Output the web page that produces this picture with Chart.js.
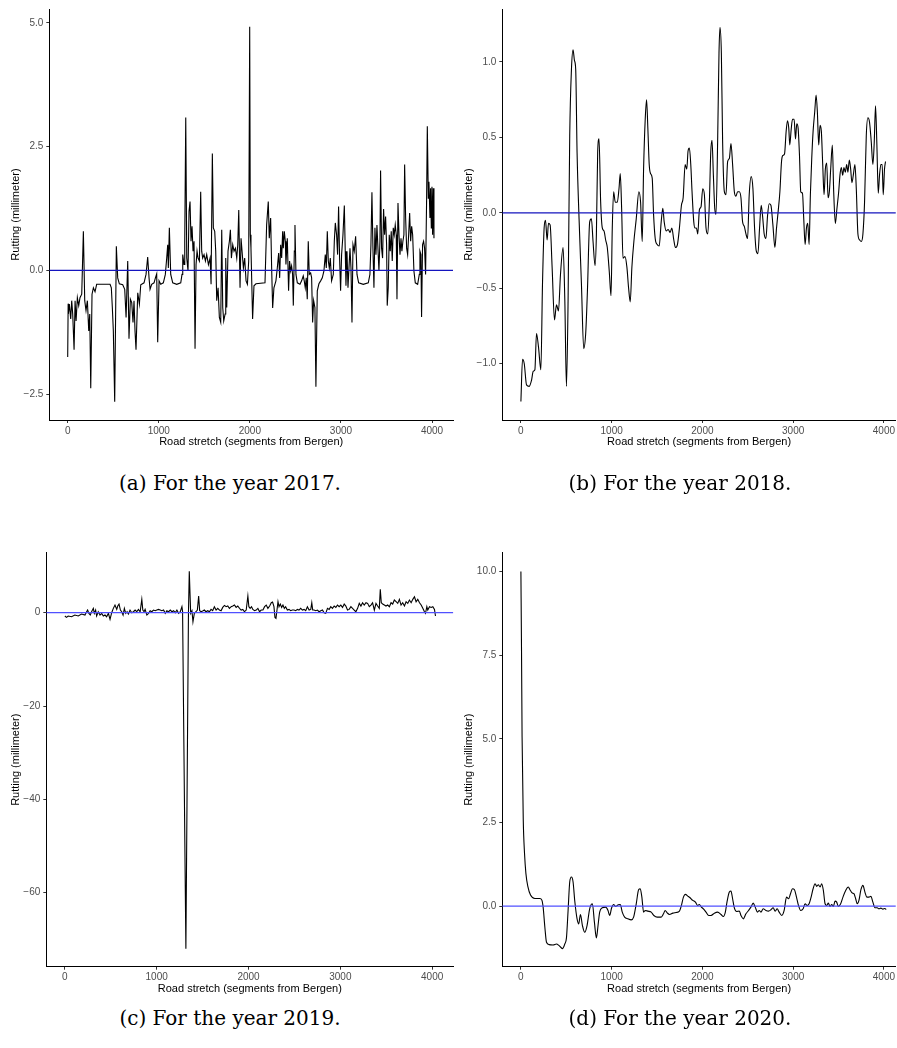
<!DOCTYPE html>
<html>
<head>
<meta charset="utf-8">
<script src="https://cdn.jsdelivr.net/npm/chart.js@4.4.1/dist/chart.umd.min.js"></script>
<style>
  body { margin: 0; background: #fff; width: 897px; height: 1048px; position: relative; overflow: hidden; }
  canvas { position: absolute; }
  .caption { position: absolute; width: 300px; text-align: center; white-space: nowrap;
             font-family: "DejaVu Serif", serif; font-size: 20px; line-height: 24px; color: #000; }
</style>
</head>
<body>
<canvas id="c2017" width="460" height="460" style="left:0;top:0"></canvas>
<canvas id="c2018" width="457" height="460" style="left:440px;top:0"></canvas>
<canvas id="c2019" width="460" height="480" style="left:0;top:520px"></canvas>
<canvas id="c2020" width="457" height="480" style="left:440px;top:520px"></canvas>
<div class="caption" style="left:80px;top:471px">(a) For the year 2017.</div>
<div class="caption" style="left:530px;top:471px">(b) For the year 2018.</div>
<div class="caption" style="left:80px;top:1006px">(c) For the year 2019.</div>
<div class="caption" style="left:530px;top:1006px">(d) For the year 2020.</div>
<script>
const xTicks = [0, 1000, 2000, 3000, 4000];
const xTickLabels = ['0', '1000', '2000', '3000', '4000'];

// 2017 (segment position, rutting mm)
const x2017 = [
  0, 5, 7, 18, 33, 44, 55, 70, 81, 92,
  106, 121, 135, 154, 172, 187, 201, 216, 231, 242,
  253, 267, 282, 300, 318, 465, 479, 490, 501, 516,
  534, 549, 567, 604, 626, 641, 659, 673, 688, 703,
  717, 728, 739, 750, 769, 787, 802, 838, 860, 878,
  893, 904, 922, 948, 963, 977, 988, 1003, 1021, 1050,
  1072, 1087, 1098, 1105, 1116, 1131, 1153, 1197, 1241, 1255,
  1263, 1277, 1285, 1296, 1307, 1321, 1332, 1343, 1354, 1365,
  1376, 1387, 1398, 1409, 1420, 1431, 1446, 1460, 1471, 1482,
  1497, 1512, 1526, 1545, 1563, 1574, 1588, 1599, 1614, 1625,
  1636, 1651, 1665, 1680, 1691, 1702, 1713, 1728, 1735, 1746,
  1760, 1775, 1786, 1797, 1812, 1826, 1841, 1856, 1867, 1878,
  1892, 1903, 1914, 1929, 1943, 1958, 1973, 1987, 1998, 2005,
  2012, 2030, 2045, 2067, 2166, 2184, 2202, 2213, 2228, 2239,
  2250, 2264, 2286, 2301, 2316, 2327, 2338, 2349, 2360, 2367,
  2378, 2389, 2396, 2411, 2425, 2436, 2447, 2458, 2469, 2477,
  2488, 2495, 2506, 2521, 2550, 2568, 2586, 2597, 2608, 2619,
  2630, 2641, 2652, 2667, 2678, 2689, 2700, 2714, 2725, 2740,
  2758, 2777, 2795, 2813, 2828, 2839, 2850, 2861, 2872, 2883,
  2897, 2916, 2927, 2938, 2952, 2963, 2974, 2985, 2996, 3007,
  3022, 3037, 3047, 3055, 3066, 3077, 3088, 3099, 3110, 3121,
  3132, 3146, 3161, 3176, 3194, 3245, 3300, 3318, 3329, 3340,
  3351, 3362, 3373, 3384, 3395, 3406, 3417, 3428, 3435, 3446,
  3457, 3468, 3479, 3490, 3501, 3508, 3519, 3530, 3541, 3552,
  3563, 3574, 3585, 3596, 3607, 3615, 3626, 3637, 3648, 3659,
  3669, 3680, 3691, 3699, 3710, 3721, 3732, 3743, 3754, 3765,
  3776, 3787, 3801, 3816, 3842, 3860, 3867, 3878, 3885, 3896,
  3907, 3918, 3929, 3940, 3948, 3959, 3966, 3977, 3984, 3992,
  3999, 4006, 4014, 4021
];
const y2017 = [
  -1.75, -0.67, -0.88, -0.68, -0.98, -0.61, -0.88, -1.60, -0.61, -1.02,
  -0.55, -0.71, -0.55, -0.48, 0.79, -0.61, -0.81, -0.61, -1.22, -0.88,
  -2.38, -0.48, -0.35, -0.43, -0.28, -0.28, -0.35, -0.75, -1.22, -2.65,
  0.49, -0.15, -0.27, -0.29, -0.38, -0.95, 0.19, -1.38, -0.58, -0.65,
  -1.05, -0.61, -1.22, -1.60, -0.45, -0.68, -0.29, -0.25, -0.08, 0.27,
  -0.15, -0.38, -0.28, -0.25, -0.15, -0.07, -1.45, -0.21, -0.28, -0.25,
  -0.08, 0.25, 0.52, 0.05, 0.86, -0.08, -0.25, -0.28, -0.25, -0.08,
  0.32, 0.12, 0.59, 3.09, 0.25, -0.01, 1.19, 1.39, 0.59, 0.89,
  0.39, 0.59, -1.58, 0.12, 0.39, 0.25, 0.19, 1.59, 0.39, 0.25,
  0.32, 0.19, 0.32, 0.12, 0.25, -0.28, 2.36, 0.86, 0.79, 0.39,
  -0.61, -0.35, -0.95, -1.05, 0.82, -0.75, -1.02, -0.88, 0.25, -0.75,
  0.39, 0.59, 0.82, 0.25, 0.52, 0.39, 0.45, 0.25, 0.52, 1.22,
  -0.35, 0.65, 0.39, 0.05, 0.25, -0.21, -0.28, 0.19, 4.92, 0.72,
  0.45, -0.98, -0.31, -0.27, -0.25, 0.92, 1.39, 0.65, 1.06, 0.05,
  -0.76, -0.35, -0.21, 0.05, 0.35, -0.15, 0.52, 0.25, 0.79, 0.45,
  0.79, 0.59, 0.12, 0.65, -0.41, 0.19, -0.01, 0.09, -0.08, -0.71,
  0.39, 0.92, -0.08, -0.25, -0.28, -0.21, -0.11, -0.21, -0.35, -0.15,
  -0.58, 0.59, -0.08, -0.05, -0.15, -1.05, -0.61, -0.75, -2.35, -0.41,
  -0.27, -0.21, -0.15, -0.01, 0.32, 0.05, 0.79, 0.19, 0.05, 0.25,
  -0.21, -0.08, 0.59, 0.96, 0.72, 0.32, 1.29, 0.25, -0.41, 0.32,
  0.72, 1.31, 0.39, -0.31, 0.39, -0.35, 0.05, 0.45, 0.05, -1.05,
  0.52, 0.39, 0.69, -0.08, -0.25, -0.28, -0.25, -0.08, 0.52, 1.58,
  0.45, -0.35, 0.86, 0.32, 0.92, 0.45, -0.01, 0.59, 2.02, 0.45,
  0.25, 1.24, 0.72, 1.09, 0.52, -0.71, -0.35, 0.72, 0.39, 0.79,
  0.19, 0.86, 0.72, 0.92, 0.72, -0.58, 1.36, 0.72, 0.32, 0.65,
  0.39, 0.59, 0.72, 2.14, 1.06, 0.45, 0.32, 0.72, 1.16, 0.59,
  0.89, 0.72, -0.01, -0.25, -0.28, -0.08, 0.39, 0.32, -0.94, 0.52,
  0.59, 0.45, -0.08, 1.39, 2.91, 1.46, 1.79, 1.06, 1.66, 0.86,
  1.69, 0.72, 1.66, 0.65
];

// 2018
const x2018 = [
  0, 18, 37, 62, 92, 117, 136, 154, 172, 194,
  220, 238, 256, 271, 289, 304, 322, 344, 370, 392,
  414, 436, 465, 484, 502, 520, 538, 557, 575, 590,
  604, 619, 641, 667, 692, 714, 733, 758, 777, 795,
  817, 832, 846, 861, 879, 897, 916, 934, 952, 974,
  993, 1007, 1022, 1040, 1062, 1081, 1095, 1110, 1125, 1147,
  1168, 1187, 1205, 1223, 1245, 1271, 1300, 1319, 1337, 1352,
  1370, 1385, 1399, 1414, 1429, 1447, 1462, 1480, 1502, 1524,
  1546, 1564, 1579, 1601, 1623, 1645, 1663, 1685, 1703, 1725,
  1747, 1769, 1788, 1810, 1828, 1842, 1857, 1872, 1886, 1905,
  1919, 1934, 1949, 1967, 1985, 2004, 2022, 2040, 2059, 2077,
  2092, 2106, 2121, 2136, 2150, 2169, 2183, 2194, 2209, 2223,
  2242, 2260, 2278, 2297, 2315, 2333, 2352, 2370, 2388, 2407,
  2425, 2443, 2462, 2480, 2498, 2516, 2538, 2557, 2575, 2593,
  2612, 2630, 2648, 2663, 2681, 2700, 2718, 2736, 2755, 2777,
  2799, 2817, 2835, 2854, 2872, 2886, 2905, 2923, 2938, 2952,
  2963, 2978, 2993, 3011, 3026, 3040, 3055, 3070, 3084, 3103,
  3117, 3132, 3147, 3161, 3176, 3190, 3205, 3220, 3238, 3253,
  3267, 3282, 3297, 3311, 3326, 3341, 3355, 3370, 3385, 3399,
  3414, 3432, 3447, 3465, 3483, 3502, 3516, 3531, 3546, 3560,
  3575, 3590, 3604, 3619, 3634, 3648, 3663, 3681, 3696, 3714,
  3733, 3751, 3769, 3787, 3806, 3824, 3842, 3861, 3879, 3894,
  3908, 3923, 3938, 3952, 3967, 3981, 3993, 4007, 4018
];
const y2018 = [
  -1.25, -0.97, -1.00, -1.14, -1.15, -1.11, -1.05, -1.04, -0.80, -0.89,
  -1.04, -0.47, -0.10, -0.05, -0.18, -0.07, -0.08, -0.36, -0.71, -0.61,
  -0.65, -0.41, -0.23, -0.58, -1.15, -0.58, 0.51, 0.95, 1.08, 1.01,
  0.95, 0.40, -0.04, -0.47, -0.90, -0.80, -0.52, -0.06, -0.04, -0.19,
  -0.35, -0.14, 0.40, 0.49, 0.07, -0.10, -0.12, -0.18, -0.23, -0.39,
  -0.55, -0.10, 0.14, 0.07, 0.07, 0.16, 0.26, 0.03, -0.30, -0.29,
  -0.36, -0.50, -0.59, -0.36, -0.19, -0.04, 0.14, 0.07, -0.19, 0.29,
  0.62, 0.75, 0.56, 0.32, 0.26, 0.23, -0.01, -0.17, -0.21, -0.22,
  -0.06, 0.03, -0.06, -0.12, -0.11, -0.13, -0.10, -0.18, -0.23, -0.21,
  -0.10, 0.05, 0.10, 0.32, 0.29, 0.41, 0.43, 0.32, 0.14, -0.06,
  -0.10, -0.10, -0.14, 0.02, 0.04, 0.16, 0.12, -0.10, -0.14, 0.07,
  0.40, 0.48, 0.25, 0.03, -0.01, 0.51, 1.06, 1.23, 1.06, 0.47,
  0.14, 0.12, 0.34, 0.36, 0.46, 0.32, 0.14, 0.11, 0.14, 0.14,
  0.10, -0.06, -0.09, -0.14, -0.17, 0.12, 0.24, 0.16, -0.10, -0.25,
  -0.27, -0.10, 0.05, -0.02, -0.14, -0.17, -0.02, 0.06, 0.05, -0.08,
  -0.23, -0.10, 0.01, 0.14, 0.34, 0.38, 0.39, 0.54, 0.61, 0.56,
  0.45, 0.55, 0.62, 0.62, 0.49, 0.59, 0.56, 0.38, 0.14, 0.13,
  -0.04, -0.21, -0.10, -0.07, -0.21, 0.12, 0.36, 0.54, 0.67, 0.78,
  0.67, 0.45, 0.58, 0.54, 0.32, 0.12, 0.29, 0.33, 0.10, 0.14,
  0.29, 0.45, 0.14, -0.07, 0.03, 0.14, 0.25, 0.30, 0.25, 0.30,
  0.27, 0.32, 0.27, 0.35, 0.29, 0.20, 0.25, 0.32, 0.16, -0.14,
  -0.18, -0.19, -0.14, 0.07, 0.51, 0.63, 0.60, 0.47, 0.32, 0.47,
  0.71, 0.45, 0.13, 0.25, 0.32, 0.32, 0.12, 0.29, 0.34
];

// 2019
const x2019 = [
  0, 18, 36, 73, 109, 146, 182, 219, 237, 248,
  262, 277, 291, 310, 321, 335, 346, 364, 383, 401,
  419, 437, 455, 474, 492, 510, 528, 546, 565, 576,
  590, 605, 619, 634, 648, 663, 678, 692, 710, 729,
  747, 765, 783, 801, 820, 838, 849, 863, 874, 893,
  911, 929, 947, 965, 984, 1002, 1020, 1038, 1056, 1075,
  1093, 1111, 1129, 1148, 1166, 1184, 1202, 1220, 1239, 1257,
  1275, 1282, 1318, 1346, 1355, 1370, 1384, 1395, 1410, 1428,
  1443, 1457, 1468, 1483, 1501, 1519, 1537, 1556, 1574, 1592,
  1610, 1628, 1647, 1665, 1683, 1701, 1719, 1738, 1756, 1774,
  1792, 1811, 1829, 1847, 1865, 1883, 1902, 1920, 1938, 1956,
  1975, 1993, 2004, 2018, 2033, 2047, 2066, 2084, 2102, 2120,
  2138, 2157, 2175, 2193, 2211, 2230, 2248, 2262, 2277, 2288,
  2299, 2310, 2321, 2332, 2346, 2361, 2375, 2390, 2404, 2423,
  2441, 2459, 2477, 2496, 2514, 2532, 2550, 2568, 2587, 2605,
  2623, 2641, 2660, 2678, 2689, 2699, 2714, 2732, 2750, 2769,
  2787, 2805, 2823, 2841, 2860, 2878, 2896, 2914, 2933, 2951,
  2969, 2987, 3005, 3024, 3042, 3060, 3078, 3096, 3115, 3133,
  3151, 3169, 3188, 3206, 3224, 3242, 3260, 3279, 3297, 3315,
  3333, 3351, 3370, 3388, 3406, 3424, 3435, 3446, 3461, 3479,
  3497, 3515, 3534, 3552, 3570, 3588, 3607, 3625, 3643, 3661,
  3679, 3698, 3716, 3734, 3752, 3771, 3789, 3807, 3825, 3843,
  3862, 3880, 3898, 3916, 3927, 3942, 3952, 3971, 3989, 4007,
  4025, 4036
];
const y2019 = [
  -0.71, -1.00, -0.71, -0.86, -0.50, -0.71, -0.29, -0.50, 0.21, 0.57,
  -0.14, -0.50, 0.21, 0.93, -0.14, 0.57, -0.71, 0.21, -0.50, -0.14,
  -0.71, -0.50, -0.86, -0.14, -1.43, 0.00, 0.93, 1.64, 0.71, 1.43,
  1.86, 0.57, 0.21, -0.50, 0.93, -0.14, 0.21, -0.29, 0.57, 0.00,
  0.21, 0.57, 0.21, 0.71, 0.21, 2.86, 0.57, 0.21, 0.71, -0.50,
  -0.14, 0.43, 0.21, 0.57, 0.43, 0.57, 0.71, 0.57, 0.43, 0.57,
  -0.14, 0.43, 0.21, 0.57, 0.21, 0.43, 0.00, 0.57, -0.14, 0.21,
  1.29, 0.30, -72.0, 0.00, 8.86, -0.14, 0.43, -1.93, -0.14, 0.21,
  0.57, 3.57, 0.43, 0.21, 0.36, 0.57, 0.21, 0.43, 0.21, 0.71,
  0.43, 1.29, 0.57, 0.93, 0.57, 0.43, 1.14, 1.57, 1.29, 1.43,
  0.93, 1.29, 1.43, 1.64, 1.14, 1.43, 0.93, 0.57, 0.71, 0.21,
  0.57, 3.57, 1.29, 0.93, 1.29, 0.71, 0.43, 0.57, 0.93, 0.21,
  0.57, 0.57, 1.29, 1.64, 0.93, 1.43, 2.14, 2.29, 1.29, -1.00,
  -1.21, 0.57, 2.36, 1.29, 1.86, 1.14, 1.64, 0.93, 1.29, 0.57,
  0.71, 0.43, 0.57, 0.57, 0.43, 0.71, 0.57, 0.93, 0.57, 0.71,
  0.43, 1.29, 0.57, 0.71, 2.14, 0.57, 0.57, 0.43, 0.57, 0.21,
  0.43, 0.57, 0.00, -0.14, 0.93, 0.71, 1.29, 0.93, 1.43, 1.14,
  1.64, 1.29, 1.64, 1.14, 1.86, 1.43, 0.57, 0.71, 1.29, 0.93,
  0.57, 0.21, 0.93, 2.00, 1.43, 2.14, 1.64, 2.14, 2.00, 1.29,
  1.64, 2.14, 0.57, 2.00, 1.43, 0.93, 5.00, 2.14, 1.86, 1.64,
  1.43, 1.64, 1.29, 2.14, 1.86, 2.71, 2.36, 2.00, 2.86, 1.64,
  2.14, 1.43, 2.36, 2.00, 2.71, 2.14, 2.86, 3.43, 2.36, 2.86,
  2.14, 1.64, 0.93, 0.21, -0.14, 1.29, 0.57, 1.29, 1.14, 1.29,
  0.71, -0.71
];

// 2020
const x2020 = [
  0, 7, 13, 26, 40, 55, 77, 106, 154, 209,
  231, 245, 264, 282, 311, 355, 392, 421, 458, 484,
  502, 520, 538, 557, 575, 593, 619, 637, 656, 678,
  703, 729, 758, 788, 810, 832, 850, 868, 897, 934,
  960, 978, 1000, 1022, 1044, 1073, 1095, 1117, 1143, 1179,
  1216, 1242, 1271, 1297, 1315, 1333, 1352, 1370, 1399, 1436,
  1465, 1502, 1546, 1571, 1590, 1612, 1637, 1674, 1711, 1747,
  1769, 1791, 1813, 1839, 1864, 1894, 1923, 1949, 1967, 1989,
  2011, 2040, 2070, 2095, 2132, 2168, 2205, 2231, 2253, 2271,
  2297, 2315, 2333, 2352, 2377, 2407, 2425, 2451, 2480, 2509,
  2535, 2560, 2582, 2608, 2626, 2645, 2670, 2700, 2729, 2755,
  2780, 2802, 2824, 2846, 2875, 2901, 2927, 2949, 2971, 2993,
  3015, 3037, 3059, 3084, 3110, 3132, 3154, 3176, 3198, 3220,
  3242, 3260, 3278, 3297, 3315, 3333, 3352, 3370, 3388, 3406,
  3425, 3443, 3462, 3480, 3498, 3524, 3549, 3579, 3608, 3626,
  3652, 3670, 3689, 3707, 3725, 3747, 3769, 3791, 3813, 3835,
  3857, 3879, 3901, 3927, 3945, 3967, 3989, 4011, 4026
];
const y2020 = [
  10.0, 7.55, 5.06, 2.57, 1.57, 0.98, 0.58, 0.33, 0.23, 0.23,
  0.18, -0.03, -0.63, -1.08, -1.15, -1.16, -1.13, -1.18, -1.27, -1.13,
  -0.95, -0.13, 0.72, 0.87, 0.72, 0.17, -0.38, -0.53, -0.25, -0.58,
  -0.78, -0.58, -0.08, 0.07, -0.48, -0.95, -0.58, -0.18, -0.05, -0.03,
  -0.13, -0.28, -0.05, 0.05, -0.01, 0.04, 0.05, -0.18, -0.33, -0.38,
  -0.41, -0.33, 0.07, 0.49, 0.52, 0.27, -0.18, -0.13, -0.15, -0.18,
  -0.28, -0.33, -0.33, -0.23, -0.13, -0.20, -0.25, -0.21, -0.19, -0.15,
  0.02, 0.27, 0.35, 0.30, 0.25, 0.17, 0.12, 0.02, 0.05, -0.03,
  -0.08, -0.18, -0.28, -0.28, -0.21, -0.18, -0.25, -0.31, -0.18, 0.12,
  0.42, 0.45, 0.22, -0.05, -0.16, -0.15, -0.28, -0.38, -0.23, -0.13,
  -0.03, 0.09, -0.03, -0.18, -0.13, -0.18, -0.08, -0.13, -0.15, -0.11,
  -0.05, -0.15, -0.08, -0.18, -0.28, -0.13, 0.27, 0.22, 0.37, 0.52,
  0.49, 0.27, 0.02, -0.13, -0.08, 0.07, 0.02, 0.07, 0.27, 0.52,
  0.67, 0.59, 0.64, 0.57, 0.67, 0.47, 0.07, 0.02, 0.09, -0.01,
  0.05, -0.01, 0.15, 0.12, -0.01, 0.07, 0.27, 0.47, 0.57, 0.49,
  0.39, 0.37, 0.22, 0.07, 0.17, 0.49, 0.62, 0.42, 0.27, 0.27,
  0.29, 0.12, -0.05, -0.05, -0.08, -0.06, -0.09, -0.07, -0.10
];

const yTicks2017 = [-2.5, 0, 2.5, 5];
const yLabels2017 = ['\u22122.5', '0.0', '2.5', '5.0'];
const yTicks2018 = [-1, -0.5, 0, 0.5, 1];
const yLabels2018 = ['\u22121.0', '\u22120.5', '0.0', '0.5', '1.0'];
const yTicks2019 = [-60, -40, -20, 0];
const yLabels2019 = ['\u221260', '\u221240', '\u221220', '0'];
const yTicks2020 = [0, 2.5, 5, 7.5, 10];
const yLabels2020 = ['0.0', '2.5', '5.0', '7.5', '10.0'];

const tickFont = { family: 'Liberation Sans', size: 10 };
const titleFont = { family: 'Liberation Sans', size: 11 };

function rutChart(id, xs, ys, p) {
  const points = xs.map((x, i) => ({ x: x, y: ys[i] }));
  const tickGrid = { display: true, drawOnChartArea: false, drawTicks: true, tickLength: 3, color: '#333', lineWidth: 1 };
  new Chart(document.getElementById(id), {
    type: 'line',
    data: {
      datasets: [
        {
          data: [{ x: p.xMin, y: 0 }, { x: p.xMax, y: 0 }],
          borderColor: p.zero, borderWidth: 1.2, pointRadius: 0
        },
        {
          data: points,
          borderColor: '#000', borderWidth: 1.1, pointRadius: 0,
          cubicInterpolationMode: p.smooth ? 'monotone' : 'default', tension: 0
        }
      ]
    },
    options: {
      responsive: false,
      animation: false,
      events: [],
      layout: { padding: p.pad },
      plugins: { legend: { display: false }, tooltip: { enabled: false } },
      scales: {
        x: {
          type: 'linear', min: p.xMin, max: p.xMax,
          afterBuildTicks: s => { s.ticks = xTicks.map(v => ({ value: v })); },
          afterFit: s => { s.height = 30; },
          ticks: { callback: (v, i) => xTickLabels[i], font: tickFont, color: '#4d4d4d', padding: 2, autoSkip: false, maxRotation: 0 },
          grid: tickGrid,
          border: { display: true, color: '#000', width: 1 },
          title: { display: true, text: 'Road stretch (segments from Bergen)', font: titleFont, color: '#000', padding: { top: 0, bottom: 1 } }
        },
        y: {
          type: 'linear', min: p.yMin, max: p.yMax,
          afterBuildTicks: s => { s.ticks = p.yTicks.map(v => ({ value: v })); },
          afterFit: s => { s.width = p.yWidth; },
          ticks: { callback: (v, i) => p.yLabels[i], font: tickFont, color: '#4d4d4d', padding: 3, autoSkip: false },
          grid: tickGrid,
          border: { display: true, color: '#000', width: 1 },
          title: { display: true, text: 'Rutting (millimeter)', font: titleFont, color: '#000', padding: { top: p.titleGap, bottom: 0 } }
        }
      }
    }
  });
}

rutChart('c2017', x2017, y2017, {
  xMin: -202, xMax: 4230, yMin: -3.02, yMax: 5.28, yTicks: yTicks2017, yLabels: yLabels2017,
  yWidth: 49.3, titleGap: 9, zero: '#1414be', smooth: false,
  pad: { left: 0, right: 7, top: 6, bottom: 10 }
});
rutChart('c2018', x2018, y2018, {
  xMin: -205, xMax: 4132, yMin: -1.373, yMax: 1.351, yTicks: yTicks2018, yLabels: yLabels2018,
  yWidth: 62.3, titleGap: 22, zero: '#1414be', smooth: true,
  pad: { left: 0, right: 0, top: 6, bottom: 10 }
});
rutChart('c2019', x2019, y2019, {
  xMin: -202, xMax: 4230, yMin: -75.86, yMax: 12.86, yTicks: yTicks2019, yLabels: yLabels2019,
  yWidth: 46.3, titleGap: 9.5, zero: '#5050ff', smooth: false,
  pad: { left: 0, right: 6.7, top: 32.7, bottom: 3.3 }
});
rutChart('c2020', x2020, y2020, {
  xMin: -205, xMax: 4132, yMin: -1.81, yMax: 10.56, yTicks: yTicks2020, yLabels: yLabels2020,
  yWidth: 62.3, titleGap: 22, zero: '#5050ff', smooth: true,
  pad: { left: 0, right: 0, top: 32.7, bottom: 3.3 }
});
</script>
</body>
</html>
